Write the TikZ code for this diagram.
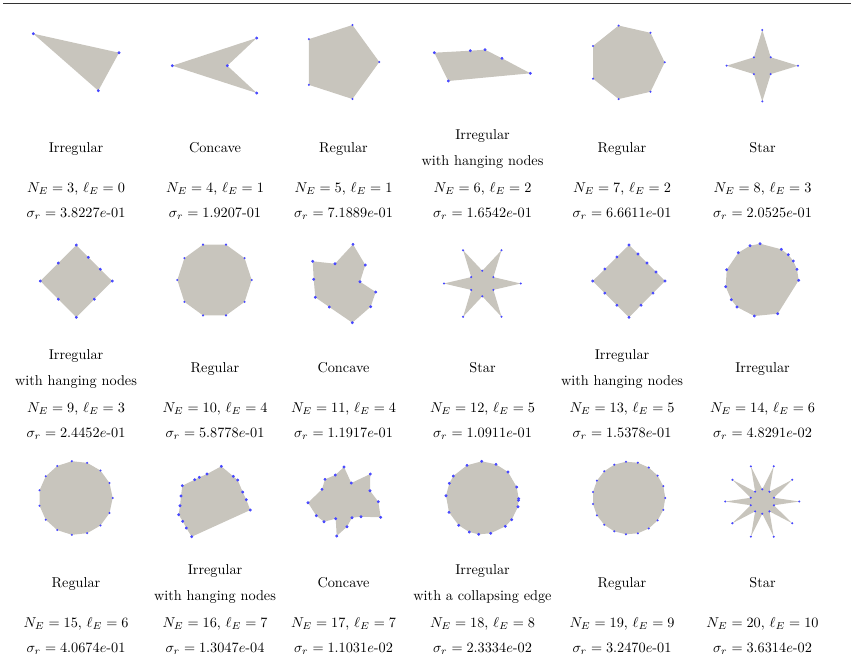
\documentclass[tikz,border=0pt]{standalone}
\usepackage{tikz}
\definecolor{polygray}{RGB}{200,197,189}
\definecolor{vblue}{RGB}{70,70,255}
\tikzset{
  polyfill/.style={fill=polygray},
  vdot/.style={fill=vblue},
  txt/.style={anchor=base,inner sep=0pt,font=\fontsize{10}{12}\selectfont},
  rulestyle/.style={line width=0.9pt,black!80}
}
\newcommand\regpoly[4]{%
  \pgfmathtruncatemacro\nm{#4-1}%
  \fill[polyfill] ({#1+#3},{#2}) \foreach \k in {1,...,\nm}{ -- ({#1+#3*cos(360*\k/#4)},{#2+#3*sin(360*\k/#4)}) } -- cycle;
  \foreach \k in {0,...,\nm}{\fill[vdot] ({#1+#3*cos(360*\k/#4)},{#2+#3*sin(360*\k/#4)}) circle[radius=0.8pt];}
}
\newcommand\starpoly[5]{%
  \pgfmathtruncatemacro\nm{2*#5-1}%
  \fill[polyfill] ({#1+#3},{#2}) \foreach \k in {1,...,\nm}{ -- ({#1+(#4+(#3-#4)*(1-mod(\k,2)))*cos(180*\k/#5)},{#2+(#4+(#3-#4)*(1-mod(\k,2)))*sin(180*\k/#5)}) } -- cycle;
  \foreach \k in {0,...,\nm}{\fill[vdot] ({#1+(#4+(#3-#4)*(1-mod(\k,2)))*cos(180*\k/#5)},{#2+(#4+(#3-#4)*(1-mod(\k,2)))*sin(180*\k/#5)}) circle[radius=0.8pt];}
}
\newcommand\irpoly[1]{%
  \fill[polyfill] plot coordinates {#1} -- cycle;
  \path[draw=none,fill=vblue,color=vblue] plot[only marks,mark=*,mark size=0.8pt,mark options={draw=none,fill=vblue}] coordinates {#1};
}
% single-line label cell: name, x, yoffset, label, N, l, sigma text
\newcommand\cellone[7]{%
  \node[txt] (#1a) at (#2,{#3+152}) {#4};
  \node[txt] (#1n) at (#2,{#3+192}) {$N_E = #5$, $\ell_E = #6$};
  \node[txt] (#1s) at (#2,{#3+217}) {#7};
}
% two-line label cell
\newcommand\celltwo[8]{%
  \node[txt] (#1a) at (#2,{#3+139}) {#4};
  \node[txt] (#1b) at (#2,{#3+165}) {#5};
  \node[txt] (#1n) at (#2,{#3+192}) {$N_E = #6$, $\ell_E = #7$};
  \node[txt] (#1s) at (#2,{#3+217}) {#8};
}
\begin{document}
\begin{tikzpicture}[x=0.7pt,y=-0.7pt]
\useasboundingbox (0,0) rectangle (851,666);
\coordinate (ruleL) at (3,3.5);
\coordinate (ruleR) at (851,3.5);
\draw[rulestyle] (ruleL) -- (ruleR);

% ---------- row 1 polygons ----------
\irpoly{(33.3,33.7) (119,52.7) (98.3,90.7)}
\irpoly{(172.3,65.7) (256.7,38) (227.3,65.7) (256.7,93)}
\regpoly{340.4}{62}{38.9}{5}
\irpoly{(434.3,52.7) (470.3,50.7) (485,49.7) (502,58.3) (530.3,73.3) (448.3,81)}
\regpoly{627}{62.3}{37.7}{7}
\starpoly{762.3}{65.7}{35.7}{11.9}{4}

% ---------- row 2 polygons ----------
\irpoly{(76.3,245) (88.3,257.3) (100.3,269.2) (112.3,281) (94.3,299.2) (76.3,317.3) (58.3,299.2) (40.3,281) (58.3,263)}
\regpoly{214.5}{280}{37.2}{10}
\irpoly{(353,244.3) (365.3,265) (360,281.7) (375.7,292) (370.7,306.7) (352.3,322.7) (329.3,307) (315.3,297.3) (313.7,279.3) (312.7,261.3) (335,263.7)}
\starpoly{482.3}{283.5}{38.4}{12.8}{6}
\irpoly{(629,245) (638,254) (647,263) (656,272) (665,281) (653,293.1) (641,305.2) (629,317.3) (616.9,305.2) (604.8,293.1) (592.7,281) (604.8,269) (616.9,257)}
\irpoly{(750,245.7) (760,243.7) (781.3,249.3) (788.3,254.7) (793.3,261) (797,269.3) (798.7,280.3) (777.7,313.7) (754.3,316) (737,307) (731.3,299.7) (725.7,286.7) (726.7,269.7) (738.3,252.7)}

% ---------- row 3 polygons ----------
\regpoly{75.7}{498}{37}{15}
\irpoly{(221.3,466.3) (233.3,476.3) (237.7,480) (242.7,492) (246.3,499.7) (250.3,510) (191.7,536.7) (186.3,528) (182.7,521.3) (178.7,514.7) (180,505.7) (181,496) (182.3,485.7) (194.7,479.7) (199.3,477.3) (207,474)}
\irpoly{(344,467) (351.3,483) (370.3,474) (370,490.7) (378.3,501.7) (380.7,517.3) (361,516.7) (352,517.7) (347,526.7) (336.7,536) (335.7,518.7) (324,521.7) (316.3,515.7) (308,502.7) (322,489.3) (325,479.3) (335.3,475)}
\irpoly{(481.7,461.3) (496,464.3) (508,472) (516.7,487) (518.7,498.7) (518.5,500.3) (518,506.7) (511.7,519.7) (505.3,526.3) (490.7,533.3) (478.7,534.3) (469.3,532) (458.7,525.3) (449,512.3) (446,495.7) (449.3,483.3) (453.3,476) (467,465.3)}
\regpoly{628.9}{498}{36.4}{19}
\starpoly{762.3}{501.5}{37}{12.2}{10}

% ---------- row 1 text ----------
\cellone{c11}{76}{0}{Irregular}{3}{0}{$\sigma_r = 3.8227e$-01}
\cellone{c12}{215}{0}{Concave}{4}{1}{$\sigma_r = 1.9207$-01}
\cellone{c13}{343.5}{0}{Regular}{5}{1}{$\sigma_r = 7.1889e$-01}
\celltwo{c14}{482.5}{0}{Irregular}{with hanging nodes}{6}{2}{$\sigma_r = 1.6542e$-01}
\cellone{c15}{622}{0}{Regular}{7}{2}{$\sigma_r = 6.6611e$-01}
\cellone{c16}{762.5}{0}{Star}{8}{3}{$\sigma_r = 2.0525e$-01}

% ---------- row 2 text ----------
\celltwo{c21}{76}{220}{Irregular}{with hanging nodes}{9}{3}{$\sigma_r = 2.4452e$-01}
\cellone{c22}{215}{220}{Regular}{10}{4}{$\sigma_r = 5.8778e$-01}
\cellone{c23}{343.5}{220}{Concave}{11}{4}{$\sigma_r = 1.1917e$-01}
\cellone{c24}{482.5}{220}{Star}{12}{5}{$\sigma_r = 1.0911e$-01}
\celltwo{c25}{622}{220}{Irregular}{with hanging nodes}{13}{5}{$\sigma_r = 1.5378e$-01}
\cellone{c26}{762.5}{220}{Irregular}{14}{6}{$\sigma_r = 4.8291e$-02}

% ---------- row 3 text ----------
\cellone{c31}{76}{435}{Regular}{15}{6}{$\sigma_r = 4.0674e$-01}
\celltwo{c32}{215}{435}{Irregular}{with hanging nodes}{16}{7}{$\sigma_r = 1.3047e$-04}
\cellone{c33}{343.5}{435}{Concave}{17}{7}{$\sigma_r = 1.1031e$-02}
\celltwo{c34}{482.5}{435}{Irregular}{with a collapsing edge}{18}{8}{$\sigma_r = 2.3334e$-02}
\cellone{c35}{622}{435}{Regular}{19}{9}{$\sigma_r = 3.2470e$-01}
\cellone{c36}{762.5}{435}{Star}{20}{10}{$\sigma_r = 3.6314e$-02}
\end{tikzpicture}
\end{document}
